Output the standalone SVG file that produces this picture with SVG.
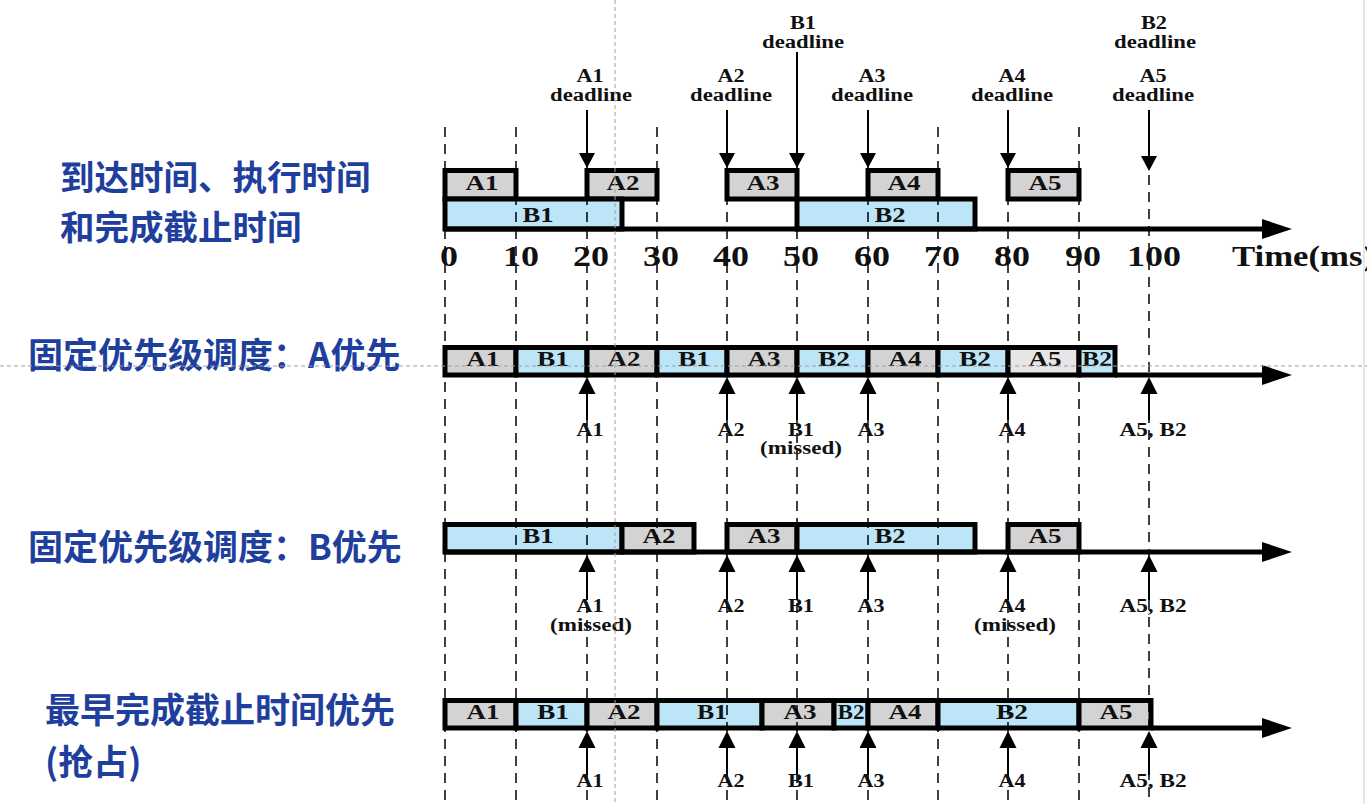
<svg xmlns="http://www.w3.org/2000/svg" xmlns:xlink="http://www.w3.org/1999/xlink" width="1367" height="804" viewBox="0 0 1367 804">
<style>
.g{fill:#d3d3d3;stroke:#000;stroke-width:5}
.lg{fill:#e6e6e6;stroke:#000;stroke-width:5}
.b{fill:#bde5f8;stroke:#000;stroke-width:5}
.s{font-family:"Liberation Serif","Times New Roman",serif;font-weight:bold;text-anchor:middle;fill:#111}
.lbl{font-size:18px}
.bx{font-size:20px}
.num{font-size:29px}
.cn{font-family:"Noto Sans CJK SC","Noto Sans",sans-serif;font-weight:bold;font-size:35px;fill:#1f3f9e}
.dash{stroke:#000;stroke-width:1.5;stroke-dasharray:10 7}
.ax{stroke:#000;stroke-width:5}
.ar{stroke:#000;stroke-width:2}
.guide{stroke:#a0a0a0;stroke-width:1;stroke-dasharray:4 3}
</style>
<defs>
<path id="dn" d="M0,0 L-8,-15 L8,-15 Z" fill="#000"/>
<path id="up" d="M0,0 L-8.5,17 L8.5,17 Z" fill="#000"/>
<marker id="axh" markerUnits="userSpaceOnUse" viewBox="0 0 30 20" refX="3" refY="10" markerWidth="30" markerHeight="20" orient="auto">
<path d="M0,0 L30,10 L0,20 Z" fill="#000"/>
</marker>
</defs>
<rect width="1367" height="804" fill="#fff"/>

<g id="titles">
<text class="cn" x="60" y="190" style="font-size:34.5px">到达时间、执行时间</text>
<text class="cn" x="60" y="240" style="font-size:34.5px">和完成截止时间</text>
<text class="cn" x="28" y="368">固定优先级调度：A优先</text>
<text class="cn" x="28" y="560">固定优先级调度：B优先</text>
<text class="cn" x="45" y="723">最早完成截止时间优先</text>
<text class="cn" x="45" y="775">(抢占)</text>
</g>

<g id="row1">
<rect class="g" x="445" y="170.5" width="71" height="28.5"/>
<rect class="g" x="587" y="170.5" width="70" height="28.5"/>
<rect class="g" x="727" y="170.5" width="70" height="28.5"/>
<rect class="g" x="868" y="170.5" width="70" height="28.5"/>
<rect class="g" x="1008" y="170.5" width="71" height="28.5"/>
<rect class="b" x="445" y="199" width="177" height="30"/>
<rect class="b" x="797" y="199" width="178" height="30"/>
<text class="s bx" x="482" y="190" textLength="33" lengthAdjust="spacingAndGlyphs">A1</text>
<text class="s bx" x="623" y="190" textLength="33" lengthAdjust="spacingAndGlyphs">A2</text>
<text class="s bx" x="763" y="190" textLength="33" lengthAdjust="spacingAndGlyphs">A3</text>
<text class="s bx" x="904" y="190" textLength="33" lengthAdjust="spacingAndGlyphs">A4</text>
<text class="s bx" x="1045" y="190" textLength="33" lengthAdjust="spacingAndGlyphs">A5</text>
<text class="s bx" x="538" y="222" textLength="31" lengthAdjust="spacingAndGlyphs">B1</text>
<text class="s bx" x="890" y="222" textLength="31" lengthAdjust="spacingAndGlyphs">B2</text>
</g>

<g id="row2">
<rect class="g" x="445" y="347.5" width="71" height="27.5"/>
<rect class="b" x="516" y="347.5" width="71" height="27.5"/>
<rect class="g" x="587" y="347.5" width="70" height="27.5"/>
<rect class="b" x="657" y="347.5" width="70" height="27.5"/>
<rect class="g" x="727" y="347.5" width="70" height="27.5"/>
<rect class="b" x="797" y="347.5" width="71" height="27.5"/>
<rect class="g" x="868" y="347.5" width="70" height="27.5"/>
<rect class="b" x="938" y="347.5" width="70" height="27.5"/>
<rect class="lg" x="1008" y="347.5" width="71" height="27.5"/>
<rect class="b" x="1079" y="347.5" width="36" height="27.5"/>
<text class="s bx" x="483" y="366" textLength="33" lengthAdjust="spacingAndGlyphs">A1</text>
<text class="s bx" x="553" y="366" textLength="32" lengthAdjust="spacingAndGlyphs">B1</text>
<text class="s bx" x="624" y="366" textLength="33" lengthAdjust="spacingAndGlyphs">A2</text>
<text class="s bx" x="694" y="366" textLength="32" lengthAdjust="spacingAndGlyphs">B1</text>
<text class="s bx" x="764" y="366" textLength="33" lengthAdjust="spacingAndGlyphs">A3</text>
<text class="s bx" x="834" y="366" textLength="32" lengthAdjust="spacingAndGlyphs">B2</text>
<text class="s bx" x="905" y="366" textLength="33" lengthAdjust="spacingAndGlyphs">A4</text>
<text class="s bx" x="975" y="366" textLength="32" lengthAdjust="spacingAndGlyphs">B2</text>
<text class="s bx" x="1045" y="366" textLength="33" lengthAdjust="spacingAndGlyphs">A5</text>
<text class="s bx" x="1097" y="366" textLength="30" lengthAdjust="spacingAndGlyphs">B2</text>
</g>

<g id="row3">
<rect class="b" x="445" y="524.5" width="177" height="27.5"/>
<rect class="g" x="622" y="524.5" width="72" height="27.5"/>
<rect class="g" x="727" y="524.5" width="70" height="27.5"/>
<rect class="b" x="797" y="524.5" width="178" height="27.5"/>
<rect class="g" x="1008" y="524.5" width="71" height="27.5"/>
<text class="s bx" x="538" y="543" textLength="31" lengthAdjust="spacingAndGlyphs">B1</text>
<text class="s bx" x="659" y="543" textLength="33" lengthAdjust="spacingAndGlyphs">A2</text>
<text class="s bx" x="764" y="543" textLength="33" lengthAdjust="spacingAndGlyphs">A3</text>
<text class="s bx" x="890" y="543" textLength="31" lengthAdjust="spacingAndGlyphs">B2</text>
<text class="s bx" x="1045" y="543" textLength="33" lengthAdjust="spacingAndGlyphs">A5</text>
</g>

<g id="row4">
<rect class="g" x="445" y="700.5" width="71" height="27.5"/>
<rect class="b" x="516" y="700.5" width="71" height="27.5"/>
<rect class="g" x="587" y="700.5" width="70" height="27.5"/>
<rect class="b" x="657" y="700.5" width="105" height="27.5"/>
<rect class="g" x="762" y="700.5" width="72" height="27.5"/>
<rect class="b" x="834" y="700.5" width="34" height="27.5"/>
<rect class="g" x="868" y="700.5" width="70" height="27.5"/>
<rect class="b" x="938" y="700.5" width="141" height="27.5"/>
<rect class="g" x="1079" y="700.5" width="72" height="27.5"/>
<text class="s bx" x="483" y="719" textLength="33" lengthAdjust="spacingAndGlyphs">A1</text>
<text class="s bx" x="553" y="719" textLength="32" lengthAdjust="spacingAndGlyphs">B1</text>
<text class="s bx" x="624" y="719" textLength="33" lengthAdjust="spacingAndGlyphs">A2</text>
<text class="s bx" x="712" y="719" textLength="30" lengthAdjust="spacingAndGlyphs">B1</text>
<text class="s bx" x="800" y="719" textLength="33" lengthAdjust="spacingAndGlyphs">A3</text>
<text class="s bx" x="851" y="719" textLength="27" lengthAdjust="spacingAndGlyphs">B2</text>
<text class="s bx" x="905" y="719" textLength="33" lengthAdjust="spacingAndGlyphs">A4</text>
<text class="s bx" x="1012" y="719" textLength="32" lengthAdjust="spacingAndGlyphs">B2</text>
<text class="s bx" x="1116" y="719" textLength="33" lengthAdjust="spacingAndGlyphs">A5</text>
</g>

<g id="grid">
<line class="dash" x1="445" y1="127" x2="445" y2="800"/>
<line class="dash" x1="516" y1="127" x2="516" y2="800"/>
<line class="dash" x1="587" y1="127" x2="587" y2="800"/>
<line class="dash" x1="657" y1="127" x2="657" y2="800"/>
<line class="dash" x1="727" y1="127" x2="727" y2="800"/>
<line class="dash" x1="797" y1="127" x2="797" y2="800"/>
<line class="dash" x1="868" y1="127" x2="868" y2="800"/>
<line class="dash" x1="938" y1="127" x2="938" y2="800"/>
<line class="dash" x1="1008" y1="127" x2="1008" y2="800"/>
<line class="dash" x1="1079" y1="127" x2="1079" y2="800"/>
<line class="dash" x1="1149" y1="175" x2="1149" y2="800"/>
</g>

<g id="axis-labels">
<text class="s num" x="449" y="266" textLength="18" lengthAdjust="spacingAndGlyphs">0</text>
<text class="s num" x="521" y="266" textLength="36" lengthAdjust="spacingAndGlyphs">10</text>
<text class="s num" x="591" y="266" textLength="36" lengthAdjust="spacingAndGlyphs">20</text>
<text class="s num" x="661" y="266" textLength="36" lengthAdjust="spacingAndGlyphs">30</text>
<text class="s num" x="731" y="266" textLength="36" lengthAdjust="spacingAndGlyphs">40</text>
<text class="s num" x="801" y="266" textLength="36" lengthAdjust="spacingAndGlyphs">50</text>
<text class="s num" x="872" y="266" textLength="36" lengthAdjust="spacingAndGlyphs">60</text>
<text class="s num" x="942" y="266" textLength="36" lengthAdjust="spacingAndGlyphs">70</text>
<text class="s num" x="1012" y="266" textLength="36" lengthAdjust="spacingAndGlyphs">80</text>
<text class="s num" x="1083" y="266" textLength="36" lengthAdjust="spacingAndGlyphs">90</text>
<text class="s num" x="1154" y="266" textLength="54" lengthAdjust="spacingAndGlyphs">100</text>
<text class="s num" x="1232" y="266" style="text-anchor:start" textLength="142" lengthAdjust="spacingAndGlyphs">Time(ms)</text>
</g>

<g id="connectors">
<line class="ax" x1="445" y1="229" x2="1265" y2="229" marker-end="url(#axh)"/>
<line class="ax" x1="1115" y1="375" x2="1265" y2="375" marker-end="url(#axh)"/>
<line class="ax" x1="445" y1="552" x2="1265" y2="552" marker-end="url(#axh)"/>
<line class="ax" x1="1151" y1="728" x2="1265" y2="728" marker-end="url(#axh)"/>

<line class="ar" x1="587" y1="110" x2="587" y2="154"/><use xlink:href="#dn" x="587" y="168"/>
<line class="ar" x1="727" y1="110" x2="727" y2="154"/><use xlink:href="#dn" x="727" y="168"/>
<line class="ar" x1="797" y1="52" x2="797" y2="154"/><use xlink:href="#dn" x="797" y="168"/>
<line class="ar" x1="868" y1="110" x2="868" y2="154"/><use xlink:href="#dn" x="868" y="168"/>
<line class="ar" x1="1008" y1="110" x2="1008" y2="154"/><use xlink:href="#dn" x="1008" y="168"/>
<line class="ar" x1="1149" y1="110" x2="1149" y2="157"/><use xlink:href="#dn" x="1149" y="171"/>

<line class="ar" x1="587" y1="392" x2="587" y2="420"/><use xlink:href="#up" x="587" y="377"/>
<line class="ar" x1="727" y1="392" x2="727" y2="420"/><use xlink:href="#up" x="727" y="377"/>
<line class="ar" x1="797" y1="392" x2="797" y2="420"/><use xlink:href="#up" x="797" y="377"/>
<line class="ar" x1="868" y1="392" x2="868" y2="420"/><use xlink:href="#up" x="868" y="377"/>
<line class="ar" x1="1008" y1="392" x2="1008" y2="420"/><use xlink:href="#up" x="1008" y="377"/>
<line class="ar" x1="1149" y1="392" x2="1149" y2="420"/><use xlink:href="#up" x="1149" y="377"/>

<line class="ar" x1="587" y1="570" x2="587" y2="600"/><use xlink:href="#up" x="587" y="555"/>
<line class="ar" x1="727" y1="570" x2="727" y2="600"/><use xlink:href="#up" x="727" y="555"/>
<line class="ar" x1="797" y1="570" x2="797" y2="600"/><use xlink:href="#up" x="797" y="555"/>
<line class="ar" x1="868" y1="570" x2="868" y2="600"/><use xlink:href="#up" x="868" y="555"/>
<line class="ar" x1="1008" y1="570" x2="1008" y2="600"/><use xlink:href="#up" x="1008" y="555"/>
<line class="ar" x1="1149" y1="570" x2="1149" y2="600"/><use xlink:href="#up" x="1149" y="555"/>

<line class="ar" x1="587" y1="746" x2="587" y2="775"/><use xlink:href="#up" x="587" y="731"/>
<line class="ar" x1="727" y1="746" x2="727" y2="775"/><use xlink:href="#up" x="727" y="731"/>
<line class="ar" x1="797" y1="746" x2="797" y2="775"/><use xlink:href="#up" x="797" y="731"/>
<line class="ar" x1="868" y1="746" x2="868" y2="775"/><use xlink:href="#up" x="868" y="731"/>
<line class="ar" x1="1008" y1="746" x2="1008" y2="775"/><use xlink:href="#up" x="1008" y="731"/>
<line class="ar" x1="1149" y1="746" x2="1149" y2="775"/><use xlink:href="#up" x="1149" y="731"/>
</g>

<g id="deadline-labels">
<text class="s lbl" x="590" y="82" textLength="27" lengthAdjust="spacingAndGlyphs">A1</text>
<text class="s lbl" x="591" y="101" textLength="82" lengthAdjust="spacingAndGlyphs">deadline</text>
<text class="s lbl" x="731" y="82" textLength="27" lengthAdjust="spacingAndGlyphs">A2</text>
<text class="s lbl" x="731" y="101" textLength="82" lengthAdjust="spacingAndGlyphs">deadline</text>
<text class="s lbl" x="803" y="29" textLength="26" lengthAdjust="spacingAndGlyphs">B1</text>
<text class="s lbl" x="803" y="48" textLength="82" lengthAdjust="spacingAndGlyphs">deadline</text>
<text class="s lbl" x="872" y="82" textLength="27" lengthAdjust="spacingAndGlyphs">A3</text>
<text class="s lbl" x="872" y="101" textLength="82" lengthAdjust="spacingAndGlyphs">deadline</text>
<text class="s lbl" x="1012" y="82" textLength="27" lengthAdjust="spacingAndGlyphs">A4</text>
<text class="s lbl" x="1012" y="101" textLength="82" lengthAdjust="spacingAndGlyphs">deadline</text>
<text class="s lbl" x="1154" y="29" textLength="26" lengthAdjust="spacingAndGlyphs">B2</text>
<text class="s lbl" x="1155" y="48" textLength="82" lengthAdjust="spacingAndGlyphs">deadline</text>
<text class="s lbl" x="1153" y="82" textLength="27" lengthAdjust="spacingAndGlyphs">A5</text>
<text class="s lbl" x="1153" y="101" textLength="82" lengthAdjust="spacingAndGlyphs">deadline</text>
</g>

<g id="event-labels">
<text class="s lbl" x="590" y="436" textLength="27" lengthAdjust="spacingAndGlyphs">A1</text>
<text class="s lbl" x="731" y="436" textLength="27" lengthAdjust="spacingAndGlyphs">A2</text>
<text class="s lbl" x="801" y="436" textLength="26" lengthAdjust="spacingAndGlyphs">B1</text>
<text class="s lbl" x="801" y="454" textLength="82" lengthAdjust="spacingAndGlyphs">(missed)</text>
<text class="s lbl" x="871" y="436" textLength="27" lengthAdjust="spacingAndGlyphs">A3</text>
<text class="s lbl" x="1012" y="436" textLength="27" lengthAdjust="spacingAndGlyphs">A4</text>
<text class="s lbl" x="1153" y="436" textLength="67" lengthAdjust="spacingAndGlyphs">A5, B2</text>

<text class="s lbl" x="590" y="612" textLength="27" lengthAdjust="spacingAndGlyphs">A1</text>
<text class="s lbl" x="591" y="631" textLength="82" lengthAdjust="spacingAndGlyphs">(missed)</text>
<text class="s lbl" x="731" y="612" textLength="27" lengthAdjust="spacingAndGlyphs">A2</text>
<text class="s lbl" x="801" y="612" textLength="26" lengthAdjust="spacingAndGlyphs">B1</text>
<text class="s lbl" x="871" y="612" textLength="27" lengthAdjust="spacingAndGlyphs">A3</text>
<text class="s lbl" x="1012" y="612" textLength="27" lengthAdjust="spacingAndGlyphs">A4</text>
<text class="s lbl" x="1015" y="631" textLength="82" lengthAdjust="spacingAndGlyphs">(missed)</text>
<text class="s lbl" x="1153" y="612" textLength="67" lengthAdjust="spacingAndGlyphs">A5, B2</text>

<text class="s lbl" x="590" y="787" textLength="27" lengthAdjust="spacingAndGlyphs">A1</text>
<text class="s lbl" x="731" y="787" textLength="27" lengthAdjust="spacingAndGlyphs">A2</text>
<text class="s lbl" x="801" y="787" textLength="26" lengthAdjust="spacingAndGlyphs">B1</text>
<text class="s lbl" x="871" y="787" textLength="27" lengthAdjust="spacingAndGlyphs">A3</text>
<text class="s lbl" x="1012" y="787" textLength="27" lengthAdjust="spacingAndGlyphs">A4</text>
<text class="s lbl" x="1153" y="787" textLength="67" lengthAdjust="spacingAndGlyphs">A5, B2</text>
</g>

<g id="guides">
<line class="guide" x1="615" y1="0" x2="615" y2="804"/>
<line class="guide" x1="0" y1="366" x2="1367" y2="366"/>
<line x1="1364" y1="0" x2="1364" y2="804" stroke="#e6e6e6" stroke-width="2"/>
</g>
</svg>
